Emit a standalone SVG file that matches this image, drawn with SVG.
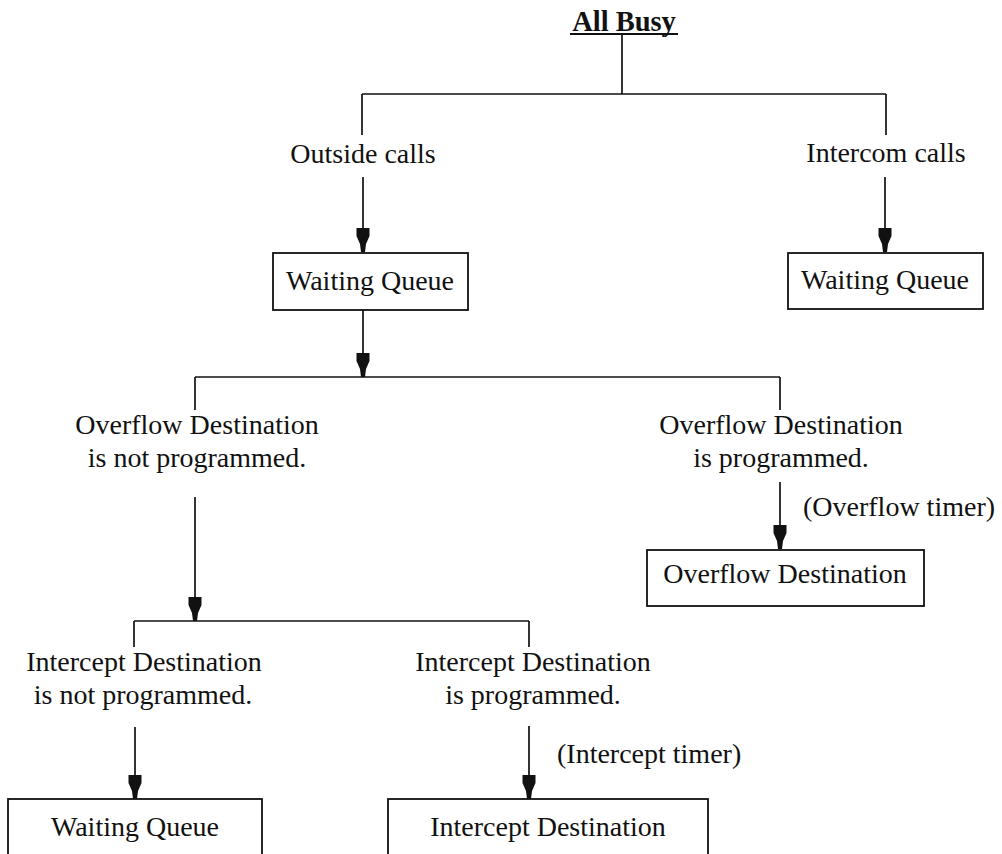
<svg xmlns="http://www.w3.org/2000/svg" width="1002" height="854" viewBox="0 0 1002 854">
<style>
  .t { font-family: "Liberation Serif", "Times New Roman", serif; font-size: 28px; fill: #111; text-anchor: middle; }
  .ts { font-family: "Liberation Serif", "Times New Roman", serif; font-size: 28px; fill: #111; text-anchor: start; }
  .title { font-family: "Liberation Serif", "Times New Roman", serif; font-size: 28.5px; font-weight: bold; fill: #111; text-anchor: middle; }
  .box { fill: #fff; stroke: #111; stroke-width: 1.8; }
  .ln { fill: none; stroke: #111; stroke-width: 1.7; }
  .arr { fill: none; stroke: #111; stroke-width: 1.7; marker-end: url(#ah); }
</style>
<defs>
  <marker id="ah" markerUnits="userSpaceOnUse" viewBox="-26 -8 27 16" refX="0" refY="0" markerWidth="27" markerHeight="16" orient="auto" overflow="visible">
    <path d="M-24,-6.5 L-16,-6.5 L-8,-3 L0,-2 L0,2 L-8,3 L-16,6.5 L-24,6.5 Z" fill="#111"/>
  </marker>
</defs>
<rect width="1002" height="854" fill="#fff"/>

<g id="connectors">
  <line class="ln" x1="622" y1="34" x2="622" y2="94"/>
  <line class="ln" x1="362" y1="94" x2="886" y2="94"/>
  <line class="ln" x1="362" y1="94" x2="362" y2="135"/>
  <line class="ln" x1="886" y1="94" x2="886" y2="135"/>
  <line class="arr" x1="363" y1="177" x2="363" y2="252"/>
  <line class="arr" x1="885" y1="177" x2="885" y2="252"/>
  <line class="arr" x1="363" y1="310" x2="363" y2="377"/>
  <line class="ln" x1="195" y1="377" x2="780" y2="377"/>
  <line class="ln" x1="780" y1="377" x2="780" y2="410"/>
  <line class="ln" x1="195" y1="377" x2="195" y2="410"/>
  <line class="arr" x1="780" y1="482" x2="780" y2="549"/>
  <line class="arr" x1="195" y1="497" x2="195" y2="621"/>
  <line class="ln" x1="134" y1="621" x2="529" y2="621"/>
  <line class="ln" x1="134" y1="621" x2="134" y2="647"/>
  <line class="ln" x1="529" y1="621" x2="529" y2="647"/>
  <line class="arr" x1="135" y1="727" x2="135" y2="799"/>
  <line class="arr" x1="529" y1="726" x2="529" y2="799"/>
</g>

<g id="title">
  <text class="title" x="624" y="31">All Busy</text>
  <line x1="570" y1="34" x2="678" y2="34" stroke="#111" stroke-width="2"/>
</g>

<g id="label-outside">
  <text class="t" x="363" y="163">Outside calls</text>
</g>
<g id="label-intercom">
  <text class="t" x="886" y="162">Intercom calls</text>
</g>

<g id="wq1">
  <rect class="box" x="273" y="253" width="195" height="57"/>
  <text class="t" x="370" y="290">Waiting Queue</text>
</g>
<g id="wq2">
  <rect class="box" x="788" y="253" width="195" height="56"/>
  <text class="t" x="885" y="289">Waiting Queue</text>
</g>

<g id="label-ovf-not">
  <text class="t" x="197" y="434">Overflow Destination</text>
  <text class="t" x="197" y="467">is not programmed.</text>
</g>
<g id="label-ovf-prog">
  <text class="t" x="781" y="434">Overflow Destination</text>
  <text class="t" x="781" y="467">is programmed.</text>
</g>
<g id="label-ovf-timer">
  <text class="ts" x="803" y="516">(Overflow timer)</text>
</g>
<g id="ovf-dest">
  <rect class="box" x="647" y="550" width="277" height="56"/>
  <text class="t" x="785" y="583">Overflow Destination</text>
</g>

<g id="label-int-not">
  <text class="t" x="144" y="671">Intercept Destination</text>
  <text class="t" x="143" y="704">is not programmed.</text>
</g>
<g id="label-int-prog">
  <text class="t" x="533" y="671">Intercept Destination</text>
  <text class="t" x="533" y="704">is programmed.</text>
</g>
<g id="label-int-timer">
  <text class="ts" x="557" y="763">(Intercept timer)</text>
</g>

<g id="wq3">
  <rect class="box" x="8" y="799" width="254" height="80"/>
  <text class="t" x="135" y="836">Waiting Queue</text>
</g>
<g id="int-dest">
  <rect class="box" x="388" y="799" width="320" height="80"/>
  <text class="t" x="548" y="836">Intercept Destination</text>
</g>
</svg>
